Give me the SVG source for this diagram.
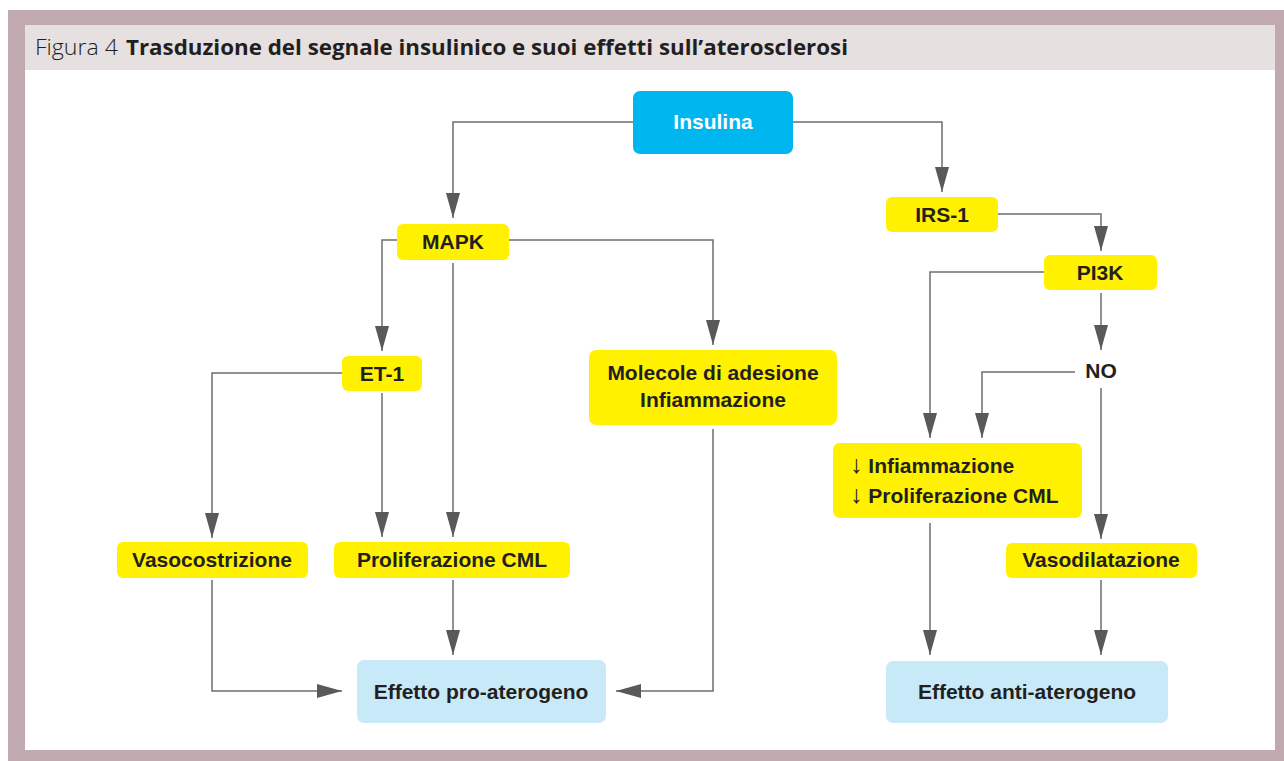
<svg xmlns="http://www.w3.org/2000/svg" width="1284" height="761" viewBox="0 0 1284 761">
<defs>
<marker id="ah" markerUnits="userSpaceOnUse" markerWidth="25" markerHeight="14" refX="25" refY="7" orient="auto">
<path d="M0,0 L25,7 L0,14 Z" fill="#58595B"/>
</marker>
<style>
.c{fill:none;stroke:#6D6E71;stroke-width:1.5}
.a{marker-end:url(#ah)}
.y{fill:#FFF100}
.b{fill:#C8E9F8}
.t{font-family:"Liberation Sans",Arial,sans-serif;font-weight:700;font-size:21px;fill:#231F20;text-anchor:middle}
.tl{font-family:"Liberation Sans",Arial,sans-serif;font-weight:700;font-size:21px;fill:#231F20}
.dn{font-weight:400;font-size:25px}
</style>
</defs>
<rect x="0" y="0" width="1284" height="761" fill="#FFFFFF"/>
<rect x="8" y="10" width="1276" height="751" fill="#C0AAAF"/>
<rect x="25" y="25" width="1250" height="725" fill="#FFFFFF"/>
<rect x="25" y="25" width="1250" height="45" fill="#E6E0E1"/>
<g id="title">
<text x="35" y="55" font-family="'Open Sans',sans-serif" font-weight="300" font-size="22" fill="#231F20" textLength="83" lengthAdjust="spacingAndGlyphs">Figura 4</text>
<text x="126" y="55" font-family="'Open Sans',sans-serif" font-weight="700" font-size="22" fill="#231F20" textLength="722" lengthAdjust="spacingAndGlyphs">Trasduzione del segnale insulinico e suoi effetti sull’aterosclerosi</text>
</g>
<g id="connectors">
<path class="c a" d="M633,122 H453 V218"/>
<path class="c a" d="M793,122 H942 V192"/>
<path class="c a" d="M998,214 H1101 V251"/>
<path class="c a" d="M1101,293 V350"/>
<path class="c a" d="M1044,272 H930 V438"/>
<path class="c a" d="M1075,372 H982 V438"/>
<path class="c a" d="M1101,388 V539"/>
<path class="c a" d="M397,240 H382 V351"/>
<path class="c a" d="M509,240 H713 V345"/>
<path class="c a" d="M453,263 V537"/>
<path class="c a" d="M342,373 H212 V538"/>
<path class="c a" d="M382,393 V537"/>
<path class="c a" d="M212,580 V691 H342"/>
<path class="c a" d="M453,580 V655"/>
<path class="c a" d="M713,429 V691 H616"/>
<path class="c a" d="M930,523 V655"/>
<path class="c a" d="M1101,580 V655"/>
</g>
<g id="insulina">
<rect x="633" y="91" width="160" height="63" rx="7" fill="#00B6EF"/>
<text class="t" x="713" y="129" style="fill:#FFFFFF">Insulina</text>
</g>
<g id="mapk">
<rect class="y" x="397" y="224" width="112" height="36" rx="6"/>
<text class="t" x="453" y="249">MAPK</text>
</g>
<g id="irs1">
<rect class="y" x="886" y="197" width="112" height="35" rx="6"/>
<text class="t" x="942" y="222">IRS-1</text>
</g>
<g id="pi3k">
<rect class="y" x="1044" y="255" width="113" height="35" rx="6"/>
<text class="t" x="1100" y="280">PI3K</text>
</g>
<g id="no">
<text class="t" x="1101" y="378">NO</text>
</g>
<g id="et1">
<rect class="y" x="342" y="356" width="80" height="35" rx="6"/>
<text class="t" x="382" y="381">ET-1</text>
</g>
<g id="molecole">
<rect class="y" x="589" y="350" width="248" height="75" rx="7"/>
<text class="t" x="713" y="380">Molecole di adesione</text>
<text class="t" x="713" y="407">Infiammazione</text>
</g>
<g id="riduzione">
<rect class="y" x="833" y="443" width="249" height="75" rx="7"/>
<text class="tl" x="850" y="473"><tspan class="dn">↓</tspan> Infiammazione</text>
<text class="tl" x="850" y="503"><tspan class="dn">↓</tspan> Proliferazione CML</text>
</g>
<g id="vasocostrizione">
<rect class="y" x="117" y="542" width="191" height="36" rx="6"/>
<text class="t" x="212" y="567">Vasocostrizione</text>
</g>
<g id="proliferazione">
<rect class="y" x="334" y="542" width="236" height="36" rx="6"/>
<text class="t" x="452" y="567">Proliferazione CML</text>
</g>
<g id="vasodilatazione">
<rect class="y" x="1006" y="543" width="191" height="35" rx="6"/>
<text class="t" x="1101" y="567">Vasodilatazione</text>
</g>
<g id="pro">
<rect class="b" x="357" y="660" width="249" height="63" rx="7"/>
<text class="t" x="481" y="699">Effetto pro-aterogeno</text>
</g>
<g id="anti">
<rect class="b" x="886" y="661" width="282" height="62" rx="7"/>
<text class="t" x="1027" y="699">Effetto anti-aterogeno</text>
</g>
</svg>
